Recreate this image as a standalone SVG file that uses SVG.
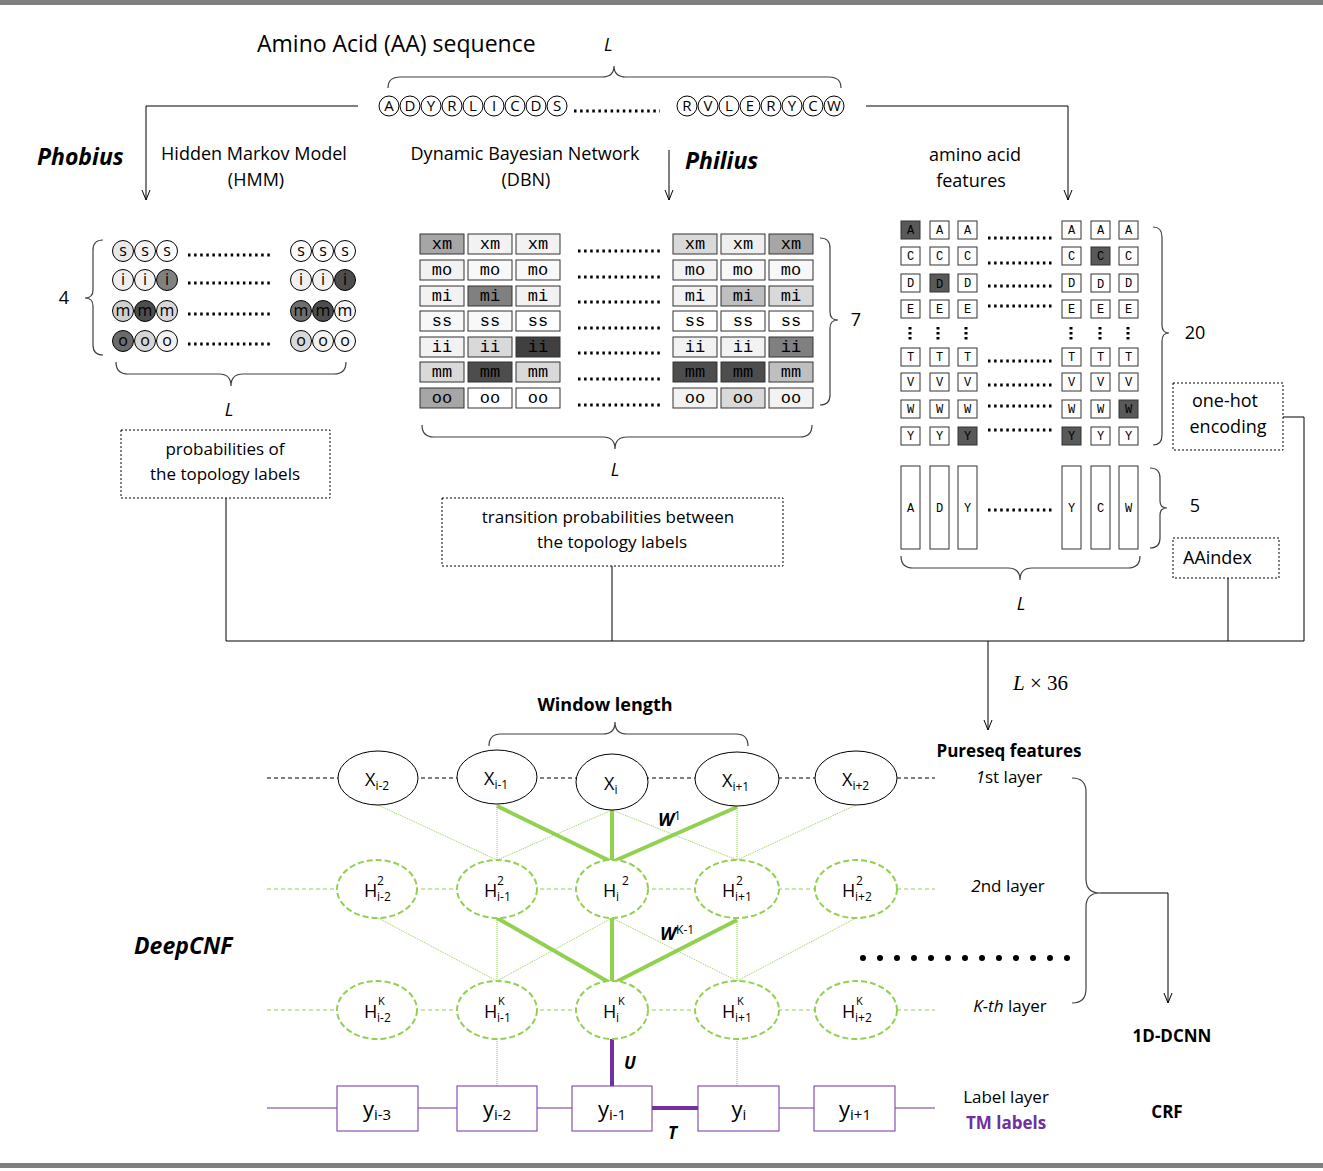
<svg xmlns="http://www.w3.org/2000/svg" width="1323" height="1171" viewBox="0 0 1323 1171">
<defs>
<marker id="arr" viewBox="0 0 10 10" refX="10" refY="5" markerWidth="10" markerHeight="10" markerUnits="userSpaceOnUse" orient="auto">
<path d="M0,1 L10,5 L0,9" fill="none" stroke="#000" stroke-width="1"/>
</marker>
</defs>
<style>
text{font-family:'Open Sans','Noto Sans',sans-serif;fill:#000}
.t18{font-size:18px}
.t17{font-size:17px}
.bi{font-weight:bold;font-style:italic;font-size:22px}
.b{font-weight:bold}
.it{font-style:italic}
.mono text{font-family:'Liberation Mono','DejaVu Sans Mono',monospace}
.ln{fill:none;stroke:#000;stroke-width:1}
.brace{fill:none;stroke:#404040;stroke-width:1.2}
.dots{stroke:#000;stroke-width:3;stroke-dasharray:2.5 3.6}
.vdots{stroke:#000;stroke-width:3;stroke-dasharray:2.5 2.5}
.dbox{fill:#fff;stroke:#000;stroke-width:1;stroke-dasharray:2 2}
.cell{stroke:#333;stroke-width:1}
.sc{stroke:#000;stroke-width:1}
.seq{fill:#fff;stroke:#000;stroke-width:1}
.gd{fill:#fff;stroke:#92d050;stroke-width:2;stroke-dasharray:6 3}
.xe{fill:#fff;stroke:#000;stroke-width:1}
.gthin{stroke:#92d050;stroke-width:1;stroke-dasharray:1 1}
.gthick{stroke:#92d050;stroke-width:4}
.pbox{fill:#fff;stroke:#7030a0;stroke-width:1}
</style>
<rect x="0" y="0" width="1323" height="5" fill="#808080"/>
<rect x="0" y="1163" width="1323" height="5" fill="#808080"/>

<g id="sequence">
<text x="257" y="52" style="font-size:23px">Amino Acid (AA) sequence</text>
<text x="604" y="51" class="it" style="font-size:18px">L</text>
<path class="brace" d="M388,88 Q388,77 400,77 L602,77 Q614,77 614,66 Q614,77 626,77 L829,77 Q841,77 841,88"/>
<g style="font-size:15px" text-anchor="middle">
<circle class="seq" cx="389" cy="106" r="10"/><text x="389" y="111">A</text>
<circle class="seq" cx="410" cy="106" r="10"/><text x="410" y="111">D</text>
<circle class="seq" cx="431" cy="106" r="10"/><text x="431" y="111">Y</text>
<circle class="seq" cx="452" cy="106" r="10"/><text x="452" y="111">R</text>
<circle class="seq" cx="473" cy="106" r="10"/><text x="473" y="111">L</text>
<circle class="seq" cx="494" cy="106" r="10"/><text x="494" y="111">I</text>
<circle class="seq" cx="515" cy="106" r="10"/><text x="515" y="111">C</text>
<circle class="seq" cx="536" cy="106" r="10"/><text x="536" y="111">D</text>
<circle class="seq" cx="557" cy="106" r="10"/><text x="557" y="111">S</text>
<circle class="seq" cx="687" cy="106" r="10"/><text x="687" y="111">R</text>
<circle class="seq" cx="708" cy="106" r="10"/><text x="708" y="111">V</text>
<circle class="seq" cx="729" cy="106" r="10"/><text x="729" y="111">L</text>
<circle class="seq" cx="750" cy="106" r="10"/><text x="750" y="111">E</text>
<circle class="seq" cx="771" cy="106" r="10"/><text x="771" y="111">R</text>
<circle class="seq" cx="792" cy="106" r="10"/><text x="792" y="111">Y</text>
<circle class="seq" cx="813" cy="106" r="10"/><text x="813" y="111">C</text>
<circle class="seq" cx="834" cy="106" r="10"/><text x="834" y="111">W</text>
</g>
<line class="dots" x1="574" y1="111" x2="660" y2="111"/>
</g>

<g id="phobius">
<text x="37" y="165" class="bi" style="font-size:23px">Phobius</text>
<text x="254" y="160" class="t18" text-anchor="middle">Hidden Markov Model</text>
<text x="256" y="186" class="t18" text-anchor="middle">(HMM)</text>
<g style="font-size:16px" text-anchor="middle">
<circle class="sc" cx="123" cy="251" r="10.5" fill="#e8e8e8"/><text x="123" y="256">s</text>
<circle class="sc" cx="145" cy="251" r="10.5" fill="#f4f4f4"/><text x="145" y="256">s</text>
<circle class="sc" cx="167" cy="251" r="10.5" fill="#ffffff"/><text x="167" y="256">s</text>
<circle class="sc" cx="301" cy="251" r="10.5" fill="#fafafa"/><text x="301" y="256">s</text>
<circle class="sc" cx="323" cy="251" r="10.5" fill="#ffffff"/><text x="323" y="256">s</text>
<circle class="sc" cx="345" cy="251" r="10.5" fill="#ffffff"/><text x="345" y="256">s</text>
<circle class="sc" cx="123" cy="280" r="10.5" fill="#eeeeee"/><text x="123" y="285">i</text>
<circle class="sc" cx="145" cy="280" r="10.5" fill="#f2f2f2"/><text x="145" y="285">i</text>
<circle class="sc" cx="167" cy="280" r="10.5" fill="#808080"/><text x="167" y="285">i</text>
<circle class="sc" cx="301" cy="280" r="10.5" fill="#f0f0f0"/><text x="301" y="285">i</text>
<circle class="sc" cx="323" cy="280" r="10.5" fill="#f2f2f2"/><text x="323" y="285">i</text>
<circle class="sc" cx="345" cy="280" r="10.5" fill="#4d4d4d"/><text x="345" y="285">i</text>
<circle class="sc" cx="123" cy="311" r="10.5" fill="#d0d0d0"/><text x="123" y="316">m</text>
<circle class="sc" cx="145" cy="311" r="10.5" fill="#4d4d4d"/><text x="145" y="316">m</text>
<circle class="sc" cx="167" cy="311" r="10.5" fill="#d8d8d8"/><text x="167" y="316">m</text>
<circle class="sc" cx="301" cy="311" r="10.5" fill="#6e6e6e"/><text x="301" y="316">m</text>
<circle class="sc" cx="323" cy="311" r="10.5" fill="#4d4d4d"/><text x="323" y="316">m</text>
<circle class="sc" cx="345" cy="311" r="10.5" fill="#f4f4f4"/><text x="345" y="316">m</text>
<circle class="sc" cx="123" cy="341" r="10.5" fill="#6b6b6b"/><text x="123" y="346">o</text>
<circle class="sc" cx="145" cy="341" r="10.5" fill="#d6d6d6"/><text x="145" y="346">o</text>
<circle class="sc" cx="167" cy="341" r="10.5" fill="#f2f2f2"/><text x="167" y="346">o</text>
<circle class="sc" cx="301" cy="341" r="10.5" fill="#d9d9d9"/><text x="301" y="346">o</text>
<circle class="sc" cx="323" cy="341" r="10.5" fill="#f2f2f2"/><text x="323" y="346">o</text>
<circle class="sc" cx="345" cy="341" r="10.5" fill="#f8f8f8"/><text x="345" y="346">o</text>
</g>
<line class="dots" x1="188" y1="255" x2="273" y2="255"/>
<line class="dots" x1="188" y1="283" x2="273" y2="283"/>
<line class="dots" x1="188" y1="314" x2="273" y2="314"/>
<line class="dots" x1="188" y1="344" x2="273" y2="344"/>
<path class="brace" d="M103,240 Q93,240 93,250 L93,290 Q93,298 85,298 Q93,298 93,306 L93,345 Q93,355 103,355"/>
<text x="64" y="304" class="t18" text-anchor="middle">4</text>
<path class="brace" d="M116,362 Q116,374 128,374 L219,374 Q231,374 231,386 Q231,374 243,374 L334,374 Q346,374 346,362"/>
<text x="229" y="416" class="it t18" text-anchor="middle">L</text>
</g>

<g id="prob-box">
<rect class="dbox" x="121" y="430" width="209" height="68"/>
<text x="225" y="455" class="t17" text-anchor="middle">probabilities of</text>
<text x="225" y="480" class="t17" text-anchor="middle">the topology labels</text>
</g>

<g id="philius">
<text x="525" y="160" class="t18" text-anchor="middle">Dynamic Bayesian Network</text>
<text x="526" y="186" class="t18" text-anchor="middle">(DBN)</text>
<text x="685" y="169" class="bi" style="font-size:23px">Philius</text>
<g class="mono" style="font-size:17px" text-anchor="middle">
<rect class="cell" x="420" y="234" width="44" height="20" fill="#a6a6a6"/><text x="442" y="249">xm</text>
<rect class="cell" x="468" y="234" width="44" height="20" fill="#f2f2f2"/><text x="490" y="249">xm</text>
<rect class="cell" x="516" y="234" width="44" height="20" fill="#f2f2f2"/><text x="538" y="249">xm</text>
<rect class="cell" x="673" y="234" width="44" height="20" fill="#d9d9d9"/><text x="695" y="249">xm</text>
<rect class="cell" x="721" y="234" width="44" height="20" fill="#eeeeee"/><text x="743" y="249">xm</text>
<rect class="cell" x="769" y="234" width="44" height="20" fill="#a6a6a6"/><text x="791" y="249">xm</text>
<rect class="cell" x="420" y="260" width="44" height="20" fill="#f2f2f2"/><text x="442" y="275">mo</text>
<rect class="cell" x="468" y="260" width="44" height="20" fill="#f8f8f8"/><text x="490" y="275">mo</text>
<rect class="cell" x="516" y="260" width="44" height="20" fill="#f8f8f8"/><text x="538" y="275">mo</text>
<rect class="cell" x="673" y="260" width="44" height="20" fill="#f2f2f2"/><text x="695" y="275">mo</text>
<rect class="cell" x="721" y="260" width="44" height="20" fill="#f8f8f8"/><text x="743" y="275">mo</text>
<rect class="cell" x="769" y="260" width="44" height="20" fill="#f8f8f8"/><text x="791" y="275">mo</text>
<rect class="cell" x="420" y="286" width="44" height="20" fill="#f2f2f2"/><text x="442" y="301">mi</text>
<rect class="cell" x="468" y="286" width="44" height="20" fill="#808080"/><text x="490" y="301">mi</text>
<rect class="cell" x="516" y="286" width="44" height="20" fill="#f2f2f2"/><text x="538" y="301">mi</text>
<rect class="cell" x="673" y="286" width="44" height="20" fill="#f2f2f2"/><text x="695" y="301">mi</text>
<rect class="cell" x="721" y="286" width="44" height="20" fill="#bfbfbf"/><text x="743" y="301">mi</text>
<rect class="cell" x="769" y="286" width="44" height="20" fill="#d9d9d9"/><text x="791" y="301">mi</text>
<rect class="cell" x="420" y="311" width="44" height="20" fill="#f8f8f8"/><text x="442" y="326">ss</text>
<rect class="cell" x="468" y="311" width="44" height="20" fill="#f8f8f8"/><text x="490" y="326">ss</text>
<rect class="cell" x="516" y="311" width="44" height="20" fill="#ffffff"/><text x="538" y="326">ss</text>
<rect class="cell" x="673" y="311" width="44" height="20" fill="#ffffff"/><text x="695" y="326">ss</text>
<rect class="cell" x="721" y="311" width="44" height="20" fill="#ffffff"/><text x="743" y="326">ss</text>
<rect class="cell" x="769" y="311" width="44" height="20" fill="#ffffff"/><text x="791" y="326">ss</text>
<rect class="cell" x="420" y="337" width="44" height="20" fill="#f2f2f2"/><text x="442" y="352">ii</text>
<rect class="cell" x="468" y="337" width="44" height="20" fill="#d9d9d9"/><text x="490" y="352">ii</text>
<rect class="cell" x="516" y="337" width="44" height="20" fill="#404040"/><text x="538" y="352">ii</text>
<rect class="cell" x="673" y="337" width="44" height="20" fill="#f2f2f2"/><text x="695" y="352">ii</text>
<rect class="cell" x="721" y="337" width="44" height="20" fill="#f2f2f2"/><text x="743" y="352">ii</text>
<rect class="cell" x="769" y="337" width="44" height="20" fill="#808080"/><text x="791" y="352">ii</text>
<rect class="cell" x="420" y="362" width="44" height="20" fill="#d9d9d9"/><text x="442" y="377">mm</text>
<rect class="cell" x="468" y="362" width="44" height="20" fill="#4d4d4d"/><text x="490" y="377">mm</text>
<rect class="cell" x="516" y="362" width="44" height="20" fill="#d9d9d9"/><text x="538" y="377">mm</text>
<rect class="cell" x="673" y="362" width="44" height="20" fill="#4d4d4d"/><text x="695" y="377">mm</text>
<rect class="cell" x="721" y="362" width="44" height="20" fill="#4d4d4d"/><text x="743" y="377">mm</text>
<rect class="cell" x="769" y="362" width="44" height="20" fill="#bfbfbf"/><text x="791" y="377">mm</text>
<rect class="cell" x="420" y="388" width="44" height="20" fill="#a6a6a6"/><text x="442" y="403">oo</text>
<rect class="cell" x="468" y="388" width="44" height="20" fill="#ffffff"/><text x="490" y="403">oo</text>
<rect class="cell" x="516" y="388" width="44" height="20" fill="#ffffff"/><text x="538" y="403">oo</text>
<rect class="cell" x="673" y="388" width="44" height="20" fill="#f2f2f2"/><text x="695" y="403">oo</text>
<rect class="cell" x="721" y="388" width="44" height="20" fill="#d9d9d9"/><text x="743" y="403">oo</text>
<rect class="cell" x="769" y="388" width="44" height="20" fill="#f2f2f2"/><text x="791" y="403">oo</text>
</g>
<line class="dots" x1="578" y1="251" x2="663" y2="251"/>
<line class="dots" x1="578" y1="277" x2="663" y2="277"/>
<line class="dots" x1="578" y1="302" x2="663" y2="302"/>
<line class="dots" x1="578" y1="328" x2="663" y2="328"/>
<line class="dots" x1="578" y1="353" x2="663" y2="353"/>
<line class="dots" x1="578" y1="379" x2="663" y2="379"/>
<line class="dots" x1="578" y1="405" x2="663" y2="405"/>
<path class="brace" d="M820,238 Q830,238 830,248 L830,312 Q830,320 838,320 Q830,320 830,328 L830,395 Q830,405 820,405"/>
<text x="856" y="326" class="t18" text-anchor="middle">7</text>
<path class="brace" d="M422,425 Q422,437 434,437 L603,437 Q615,437 615,449 Q615,437 627,437 L800,437 Q812,437 812,425"/>
<text x="615" y="476" class="it t18" text-anchor="middle">L</text>
</g>

<g id="transition-box">
<rect class="dbox" x="442" y="498" width="341" height="68"/>
<text x="608" y="523" class="t17" text-anchor="middle">transition probabilities between</text>
<text x="612" y="548" class="t17" text-anchor="middle">the topology labels</text>
</g>

<g id="aa-features">
<text x="975" y="161" class="t18" text-anchor="middle">amino acid</text>
<text x="971" y="187" class="t18" text-anchor="middle">features</text>
<g class="mono" style="font-size:12px" text-anchor="middle">
<rect class="cell" x="901" y="221" width="19" height="18" fill="#595959"/><text x="910.5" y="234">A</text>
<rect class="cell" x="930" y="221" width="19" height="18" fill="#fff"/><text x="939.5" y="234">A</text>
<rect class="cell" x="958" y="221" width="19" height="18" fill="#fff"/><text x="967.5" y="234">A</text>
<rect class="cell" x="1062" y="221" width="19" height="18" fill="#fff"/><text x="1071.5" y="234">A</text>
<rect class="cell" x="1091" y="221" width="19" height="18" fill="#fff"/><text x="1100.5" y="234">A</text>
<rect class="cell" x="1119" y="221" width="19" height="18" fill="#fff"/><text x="1128.5" y="234">A</text>
<rect class="cell" x="901" y="247" width="19" height="18" fill="#fff"/><text x="910.5" y="260">C</text>
<rect class="cell" x="930" y="247" width="19" height="18" fill="#fff"/><text x="939.5" y="260">C</text>
<rect class="cell" x="958" y="247" width="19" height="18" fill="#fff"/><text x="967.5" y="260">C</text>
<rect class="cell" x="1062" y="247" width="19" height="18" fill="#fff"/><text x="1071.5" y="260">C</text>
<rect class="cell" x="1091" y="247" width="19" height="18" fill="#595959"/><text x="1100.5" y="260">C</text>
<rect class="cell" x="1119" y="247" width="19" height="18" fill="#fff"/><text x="1128.5" y="260">C</text>
<rect class="cell" x="901" y="274" width="19" height="18" fill="#fff"/><text x="910.5" y="287">D</text>
<rect class="cell" x="930" y="274" width="19" height="18" fill="#595959"/><text x="939.5" y="288">D</text>
<rect class="cell" x="958" y="274" width="19" height="18" fill="#fff"/><text x="967.5" y="287">D</text>
<rect class="cell" x="1062" y="274" width="19" height="18" fill="#fff"/><text x="1071.5" y="287">D</text>
<rect class="cell" x="1091" y="274" width="19" height="18" fill="#fff"/><text x="1100.5" y="288">D</text>
<rect class="cell" x="1119" y="274" width="19" height="18" fill="#fff"/><text x="1128.5" y="287">D</text>
<rect class="cell" x="901" y="300" width="19" height="18" fill="#fff"/><text x="910.5" y="313">E</text>
<rect class="cell" x="930" y="300" width="19" height="18" fill="#fff"/><text x="939.5" y="313">E</text>
<rect class="cell" x="958" y="300" width="19" height="18" fill="#fff"/><text x="967.5" y="313">E</text>
<rect class="cell" x="1062" y="300" width="19" height="18" fill="#fff"/><text x="1071.5" y="313">E</text>
<rect class="cell" x="1091" y="300" width="19" height="18" fill="#fff"/><text x="1100.5" y="313">E</text>
<rect class="cell" x="1119" y="300" width="19" height="18" fill="#fff"/><text x="1128.5" y="313">E</text>
<rect class="cell" x="901" y="348" width="19" height="18" fill="#fff"/><text x="910.5" y="361">T</text>
<rect class="cell" x="930" y="348" width="19" height="18" fill="#fff"/><text x="939.5" y="361">T</text>
<rect class="cell" x="958" y="348" width="19" height="18" fill="#fff"/><text x="967.5" y="361">T</text>
<rect class="cell" x="1062" y="348" width="19" height="18" fill="#fff"/><text x="1071.5" y="361">T</text>
<rect class="cell" x="1091" y="348" width="19" height="18" fill="#fff"/><text x="1100.5" y="361">T</text>
<rect class="cell" x="1119" y="348" width="19" height="18" fill="#fff"/><text x="1128.5" y="361">T</text>
<rect class="cell" x="901" y="373" width="19" height="18" fill="#fff"/><text x="910.5" y="386">V</text>
<rect class="cell" x="930" y="373" width="19" height="18" fill="#fff"/><text x="939.5" y="386">V</text>
<rect class="cell" x="958" y="373" width="19" height="18" fill="#fff"/><text x="967.5" y="386">V</text>
<rect class="cell" x="1062" y="373" width="19" height="18" fill="#fff"/><text x="1071.5" y="386">V</text>
<rect class="cell" x="1091" y="373" width="19" height="18" fill="#fff"/><text x="1100.5" y="386">V</text>
<rect class="cell" x="1119" y="373" width="19" height="18" fill="#fff"/><text x="1128.5" y="386">V</text>
<rect class="cell" x="901" y="400" width="19" height="18" fill="#fff"/><text x="910.5" y="413">W</text>
<rect class="cell" x="930" y="400" width="19" height="18" fill="#fff"/><text x="939.5" y="413">W</text>
<rect class="cell" x="958" y="400" width="19" height="18" fill="#fff"/><text x="967.5" y="413">W</text>
<rect class="cell" x="1062" y="400" width="19" height="18" fill="#fff"/><text x="1071.5" y="413">W</text>
<rect class="cell" x="1091" y="400" width="19" height="18" fill="#fff"/><text x="1100.5" y="413">W</text>
<rect class="cell" x="1119" y="400" width="19" height="18" fill="#595959"/><text x="1128.5" y="413">W</text>
<rect class="cell" x="901" y="427" width="19" height="18" fill="#fff"/><text x="910.5" y="440">Y</text>
<rect class="cell" x="930" y="427" width="19" height="18" fill="#fff"/><text x="939.5" y="440">Y</text>
<rect class="cell" x="958" y="427" width="19" height="18" fill="#595959"/><text x="967.5" y="440">Y</text>
<rect class="cell" x="1062" y="427" width="19" height="18" fill="#595959"/><text x="1071.5" y="440">Y</text>
<rect class="cell" x="1091" y="427" width="19" height="18" fill="#fff"/><text x="1100.5" y="440">Y</text>
<rect class="cell" x="1119" y="427" width="19" height="18" fill="#fff"/><text x="1128.5" y="440">Y</text>
</g>
<line class="dots" x1="988" y1="238" x2="1055" y2="238"/>
<line class="dots" x1="988" y1="263" x2="1055" y2="263"/>
<line class="dots" x1="988" y1="286" x2="1055" y2="286"/>
<line class="dots" x1="988" y1="306" x2="1055" y2="306"/>
<line class="dots" x1="988" y1="361" x2="1055" y2="361"/>
<line class="dots" x1="988" y1="385" x2="1055" y2="385"/>
<line class="dots" x1="988" y1="406" x2="1055" y2="406"/>
<line class="dots" x1="988" y1="430" x2="1055" y2="430"/>
<line class="vdots" x1="910" y1="327" x2="910" y2="340"/>
<line class="vdots" x1="938" y1="327" x2="938" y2="340"/>
<line class="vdots" x1="966" y1="327" x2="966" y2="340"/>
<line class="vdots" x1="1071" y1="327" x2="1071" y2="340"/>
<line class="vdots" x1="1100" y1="327" x2="1100" y2="340"/>
<line class="vdots" x1="1128" y1="327" x2="1128" y2="340"/>
<path class="brace" d="M1153,227 Q1162,227 1162,237 L1162,325 Q1162,333 1169,333 Q1162,333 1162,341 L1162,435 Q1162,445 1153,445"/>
<text x="1195" y="339" class="t18" text-anchor="middle">20</text>
</g>

<g id="onehot-box">
<rect class="dbox" x="1173" y="383" width="110" height="67"/>
<text x="1225" y="407" class="t18" text-anchor="middle">one-hot</text>
<text x="1228" y="433" class="t18" text-anchor="middle">encoding</text>
</g>

<g id="aaindex">
<g class="mono" style="font-size:12px" text-anchor="middle">
<rect class="cell" x="901" y="466" width="19" height="83" fill="#fff"/><text x="910.5" y="512">A</text>
<rect class="cell" x="930" y="466" width="19" height="83" fill="#fff"/><text x="939.5" y="512">D</text>
<rect class="cell" x="958" y="466" width="19" height="83" fill="#fff"/><text x="967.5" y="512">Y</text>
<rect class="cell" x="1062" y="466" width="19" height="83" fill="#fff"/><text x="1071.5" y="512">Y</text>
<rect class="cell" x="1091" y="466" width="19" height="83" fill="#fff"/><text x="1100.5" y="512">C</text>
<rect class="cell" x="1119" y="466" width="19" height="83" fill="#fff"/><text x="1128.5" y="512">W</text>
</g>
<line class="dots" x1="988" y1="510" x2="1055" y2="510"/>
<path class="brace" d="M1150,468 Q1160,468 1160,478 L1160,501 Q1160,508 1167,508 Q1160,508 1160,515 L1160,538 Q1160,548 1150,548"/>
<text x="1195" y="512" class="t18" text-anchor="middle">5</text>
<path class="brace" d="M901,556 Q901,568 913,568 L1008,568 Q1020,568 1020,580 Q1020,568 1032,568 L1128,568 Q1140,568 1140,556"/>
<text x="1021" y="610" class="it t18" text-anchor="middle">L</text>
<rect class="dbox" x="1173" y="538" width="106" height="40"/>
<text x="1183" y="564" class="t18">AAindex</text>
</g>

<g id="connectors">
<path class="ln" d="M358,106 L146,106 L146,200" marker-end="url(#arr)"/>
<path class="ln" d="M866,106 L1068,106 L1068,200" marker-end="url(#arr)"/>
<path class="ln" d="M669,150 L669,200" marker-end="url(#arr)"/>
<path class="ln" d="M226,498 L226,641 L1304,641"/>
<path class="ln" d="M612,566 L612,641"/>
<path class="ln" d="M1228,578 L1228,641"/>
<path class="ln" d="M1283,417 L1304,417 L1304,641"/>
<path class="ln" d="M988,641 L988,730" marker-end="url(#arr)"/>
<path class="ln" d="M1100,893 L1168,893 L1168,1003" marker-end="url(#arr)"/>
</g>
<text x="1013" y="690" style="font-family:'Liberation Serif','DejaVu Serif',serif;font-size:21px"><tspan font-style="italic">L</tspan> × 36</text>

<g id="deepcnf">
<text x="134" y="954" class="bi" style="font-size:23px">DeepCNF</text>
<text x="605" y="711" class="b t18" text-anchor="middle">Window length</text>
<path class="brace" d="M489,746 Q489,734 501,734 L603,734 Q615,734 615,722 Q615,734 627,734 L736,734 Q748,734 748,746"/>
<line x1="267" y1="778" x2="935" y2="778" stroke="#000" stroke-width="1" stroke-dasharray="4 3"/>
<line x1="267" y1="889" x2="935" y2="889" stroke="#92d050" stroke-width="1" stroke-dasharray="4 3"/>
<line x1="267" y1="1010" x2="935" y2="1010" stroke="#92d050" stroke-width="1" stroke-dasharray="4 3"/>
<line x1="267" y1="1108" x2="935" y2="1108" stroke="#7030a0" stroke-width="1"/>
<line class="gthin" x1="378" y1="805" x2="497" y2="860"/>
<line class="gthin" x1="497" y1="805" x2="497" y2="860"/>
<line class="gthin" x1="612" y1="810" x2="497" y2="860"/>
<line class="gthin" x1="612" y1="810" x2="737" y2="860"/>
<line class="gthin" x1="737" y1="806" x2="737" y2="860"/>
<line class="gthin" x1="856" y1="805" x2="737" y2="860"/>
<line class="gthin" x1="378" y1="918" x2="497" y2="981"/>
<line class="gthin" x1="497" y1="918" x2="497" y2="981"/>
<line class="gthin" x1="612" y1="918" x2="497" y2="981"/>
<line class="gthin" x1="612" y1="918" x2="737" y2="981"/>
<line class="gthin" x1="737" y1="918" x2="737" y2="981"/>
<line class="gthin" x1="856" y1="918" x2="737" y2="981"/>
<path class="gthick" fill="none" d="M497,806 L612,862 M612,810 L612,862 M737,807 L612,862"/>
<path class="gthick" fill="none" d="M497,918 L612,984 M612,918 L612,984 M737,920 L612,984"/>
<text x="658" y="826" style="font-size:18px"><tspan font-weight="bold" font-style="italic">W</tspan><tspan font-size="12" dy="-6">1</tspan></text>
<text x="660" y="940" style="font-size:18px"><tspan font-weight="bold" font-style="italic">W</tspan><tspan font-size="12" dy="-6">K-1</tspan></text>
<line x1="612" y1="1039" x2="612" y2="1086" stroke="#7030a0" stroke-width="4"/>
<line x1="497" y1="1039" x2="497" y2="1086" stroke="#b48ad0" stroke-width="1" stroke-dasharray="1 1"/>
<line x1="737" y1="1039" x2="737" y2="1086" stroke="#b48ad0" stroke-width="1" stroke-dasharray="1 1"/>
<line x1="652" y1="1108" x2="698" y2="1108" stroke="#7030a0" stroke-width="4"/>
<text x="624" y="1069" class="b it" style="font-size:17px">U</text>
<text x="668" y="1139" class="b it" style="font-size:17px">T</text>
<line x1="863" y1="958" x2="1068" y2="958" stroke="#000" stroke-width="6" stroke-linecap="round" stroke-dasharray="0 17"/>
</g>

<g id="x-layer" style="font-size:18px">
<ellipse class="xe" cx="378" cy="778" rx="40" ry="27"/>
<text x="365" y="786">X<tspan font-size="12" dy="4">i-2</tspan></text>
<ellipse class="xe" cx="497" cy="777" rx="40" ry="27"/>
<text x="484" y="785">X<tspan font-size="12" dy="4">i-1</tspan></text>
<ellipse class="xe" cx="612" cy="782" rx="36" ry="28"/>
<text x="604" y="790">X<tspan font-size="12" dy="4">i</tspan></text>
<ellipse class="xe" cx="737" cy="779" rx="42" ry="27"/>
<text x="722" y="787">X<tspan font-size="12" dy="4">i+1</tspan></text>
<ellipse class="xe" cx="856" cy="778" rx="41" ry="27"/>
<text x="842" y="786">X<tspan font-size="12" dy="4">i+2</tspan></text>
</g>

<g id="h2-layer" style="font-size:18px">
<ellipse class="gd" cx="377" cy="889" rx="40" ry="29"/>
<text x="364" y="897">H</text><text x="377" y="885" font-size="12">2</text><text x="377" y="901" font-size="12">i-2</text>
<ellipse class="gd" cx="497" cy="889" rx="40" ry="29"/>
<text x="484" y="897">H</text><text x="497" y="885" font-size="12">2</text><text x="497" y="901" font-size="12">i-1</text>
<ellipse class="gd" cx="612" cy="889" rx="36" ry="29"/>
<text x="603" y="897">H</text><text x="616" y="901" font-size="12">i</text><text x="622" y="885" font-size="12">2</text>
<ellipse class="gd" cx="737" cy="889" rx="42" ry="29"/>
<text x="722" y="897">H</text><text x="736" y="885" font-size="12">2</text><text x="735" y="901" font-size="12">i+1</text>
<ellipse class="gd" cx="856" cy="889" rx="41" ry="29"/>
<text x="842" y="897">H</text><text x="856" y="885" font-size="12">2</text><text x="855" y="901" font-size="12">i+2</text>
</g>

<g id="hk-layer" style="font-size:18px">
<ellipse class="gd" cx="377" cy="1010" rx="40" ry="29"/>
<text x="364" y="1018">H</text><text x="378" y="1005" font-size="11">K</text><text x="377" y="1022" font-size="12">i-2</text>
<ellipse class="gd" cx="497" cy="1010" rx="40" ry="29"/>
<text x="484" y="1018">H</text><text x="498" y="1005" font-size="11">K</text><text x="497" y="1022" font-size="12">i-1</text>
<ellipse class="gd" cx="612" cy="1010" rx="36" ry="29"/>
<text x="603" y="1018">H</text><text x="616" y="1022" font-size="12">i</text><text x="618" y="1005" font-size="11">K</text>
<ellipse class="gd" cx="737" cy="1010" rx="42" ry="29"/>
<text x="722" y="1018">H</text><text x="737" y="1005" font-size="11">K</text><text x="735" y="1022" font-size="12">i+1</text>
<ellipse class="gd" cx="856" cy="1010" rx="41" ry="29"/>
<text x="842" y="1018">H</text><text x="856" y="1005" font-size="11">K</text><text x="855" y="1022" font-size="12">i+2</text>
</g>

<g id="label-layer" style="font-size:22px" text-anchor="middle">
<rect class="pbox" x="337" y="1086" width="81" height="45"/>
<text x="377" y="1117">y<tspan font-size="15" dy="3">i-3</tspan></text>
<rect class="pbox" x="457" y="1086" width="80" height="45"/>
<text x="497" y="1117">y<tspan font-size="15" dy="3">i-2</tspan></text>
<rect class="pbox" x="572" y="1086" width="80" height="45"/>
<text x="612" y="1117">y<tspan font-size="15" dy="3">i-1</tspan></text>
<rect class="pbox" x="698" y="1086" width="81" height="45"/>
<text x="739" y="1117">y<tspan font-size="15" dy="3">i</tspan></text>
<rect class="pbox" x="814" y="1086" width="81" height="45"/>
<text x="855" y="1117">y<tspan font-size="15" dy="3">i+1</tspan></text>
</g>

<g id="right-labels">
<text x="1009" y="757" class="b t17" text-anchor="middle">Pureseq features</text>
<text x="1009" y="783" class="t17" text-anchor="middle"><tspan font-style="italic">1</tspan>st layer</text>
<text x="1008" y="892" class="t17" text-anchor="middle"><tspan font-style="italic">2</tspan>nd layer</text>
<text x="1010" y="1012" class="t17" text-anchor="middle"><tspan font-style="italic">K-th</tspan> layer</text>
<text x="1006" y="1103" class="t17" text-anchor="middle">Label layer</text>
<text x="1006" y="1129" class="b t17" text-anchor="middle" style="fill:#7030a0">TM labels</text>
<path class="brace" d="M1072,778 Q1086,778 1086,792 L1086,879 Q1086,893 1100,893 Q1086,893 1086,907 L1086,989 Q1086,1003 1072,1003"/>
<text x="1172" y="1042" class="b t17" text-anchor="middle">1D-DCNN</text>
<text x="1167" y="1118" class="b t17" text-anchor="middle">CRF</text>
</g>
</svg>
